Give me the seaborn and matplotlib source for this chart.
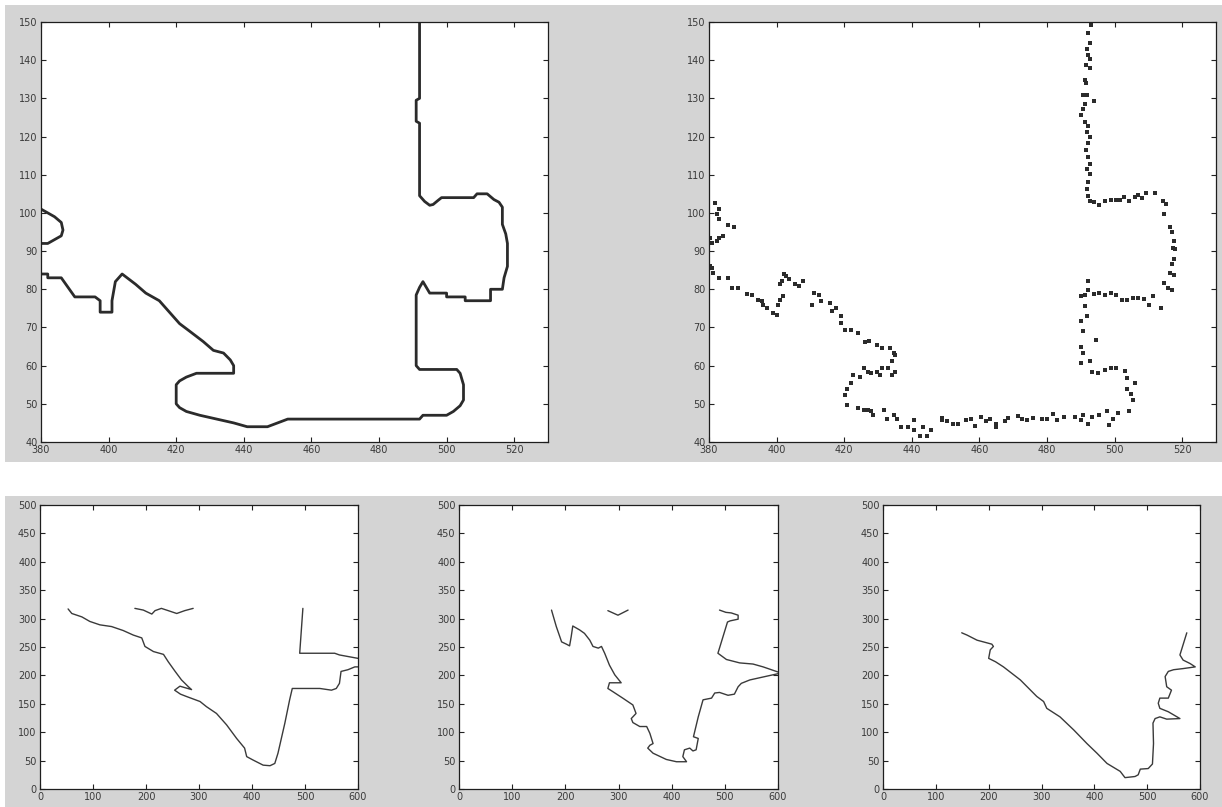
import matplotlib
matplotlib.use("Agg")
import matplotlib.pyplot as plt
import pandas as pd
import seaborn as sns
from matplotlib.patches import Rectangle

# ---- top-left: traced boundary (closed contour pieces) ----
contour_main_x = [380, 382, 382, 386, 390, 396, 397.5, 397.5, 401, 401, 402, 404, 408, 411, 415, 418,
                  421, 424, 428, 431, 434, 436, 437, 437, 426, 423, 421, 420, 420, 421, 423, 427,
                  432, 437, 441, 447, 450, 453, 492, 493, 500, 502, 504, 505, 505, 504, 503, 492,
                  491, 491, 492, 493, 495, 500, 500, 505.5, 505.5, 513, 513, 516.5, 517, 518, 518,
                  517.5, 516.5, 516.5, 515.5, 514, 512, 509, 508, 498.5, 497.5, 496, 495, 493.5,
                  492, 492, 491, 491, 492, 492]
contour_main_y = [84, 84, 83, 83, 78, 78, 77, 74, 74, 77, 82, 84, 81.3, 79, 77, 74,
                  71, 69, 66.3, 64, 63.3, 61.5, 60, 58, 58, 57, 56, 55, 50, 49, 48, 47,
                  46, 45, 44, 44, 45, 46, 46, 47, 47, 48, 49.5, 51, 55, 58, 59, 59,
                  60, 78.5, 80.5, 82, 79, 79, 78, 78, 77, 77, 80, 80, 83, 86, 92,
                  94.5, 97, 101.5, 102.8, 103.5, 105, 105, 104, 104, 103.3, 102.2, 102, 103,
                  104.5, 123.5, 124, 129.5, 130, 150]
contour_lobe_x = [380, 382, 384, 386, 386.5, 386, 384, 382, 380]
contour_lobe_y = [101, 100, 99, 97.5, 95.5, 94, 93, 92, 92]

# ---- top-right: noisy edge samples ----
edge_pts_x = [
    493.1, 492.2, 492.6, 491.7, 492.2, 492.8, 491.5, 492.8, 491.1, 491.5, 490.6, 491.7, 493.9, 491.1,
    490.6, 490.0, 491.1, 492.2, 491.7, 492.8, 492.2, 491.5, 492.2, 492.8, 491.7, 492.8, 492.2, 491.7,
    492.2,
    492.8, 493.9, 495.5, 497.2, 498.8, 500.5, 501.6, 502.7, 504.3, 505.9, 507.0, 508.1, 509.2, 512.0,
    514.2, 515.3, 514.5,
    516.4, 516.9, 517.5, 517.3, 518.0, 517.5, 516.9, 516.4, 517.5, 514.7, 515.8, 516.9, 513.6,
    511.4, 510.3, 508.7, 507.0, 505.4, 503.8, 502.1, 500.5, 498.8, 497.2, 495.5, 493.9, 492.2, 491.1,
    490.0, 492.2,
    491.1, 490.0, 491.7, 490.6, 494.4, 490.0, 490.6, 490.0, 492.8,
    493.3, 495.0, 497.2, 498.8, 500.5, 503.2, 503.8, 505.9, 503.8, 504.9, 505.4, 504.3, 501.0, 499.4,
    498.3, 497.7, 495.5, 493.3, 492.2, 490.6, 490.0, 488.4,
    485.1, 482.9, 481.8, 480.1, 478.5, 475.8, 474.1, 472.5, 471.4, 468.6, 467.5, 464.8, 464.8, 463.1,
    462.0, 460.4, 458.7, 457.6, 456.0, 453.8, 452.1, 450.5, 448.8, 448.8, 445.6, 444.5, 443.4, 442.3,
    440.6, 440.6, 439.0, 436.8, 435.7, 434.6, 432.7, 431.8, 428.5, 428.0, 426.9, 425.8, 424.1, 420.8,
    420.3, 420.8, 421.9, 422.5, 424.7, 425.8, 426.9, 428.0, 429.6, 430.7, 431.3, 432.9, 434.0, 435.1,
    434.0, 435.1, 434.6, 433.5, 431.3, 429.6, 427.4, 426.3, 424.1, 421.9, 420.3, 419.2, 419.2, 417.6,
    416.5, 415.9, 413.2, 412.6, 411.0, 410.4, 407.7, 406.6, 405.5, 403.8, 402.7, 401.6, 400.9, 402.2,
    402.0, 401.1, 400.5, 400.0, 398.9, 397.2, 396.1, 395.6, 394.5, 392.8, 391.2, 388.5, 386.8, 385.7,
    383.0, 381.3, 380.8, 380.2,
    381.9, 383.0, 382.4, 383.0, 385.7, 387.4, 384.1, 383.0, 382.4, 380.8, 380.2,
]
edge_pts_y = [
    149.3, 147.1, 144.5, 142.9, 141.4, 140.3, 138.8, 137.9, 134.8, 133.9, 130.9, 130.9, 129.4, 128.5,
    127.1, 125.6, 123.9, 122.7, 121.2, 119.9, 118.3, 116.4, 114.6, 112.9, 111.5, 110.2, 108.0, 106.3,
    104.5,
    103.2, 102.8, 102.2, 103.2, 103.5, 103.5, 103.4, 104.1, 103.2, 104.1, 104.7, 103.9, 105.1, 105.1,
    103.2, 102.3, 99.7,
    96.2, 95.1, 92.7, 90.9, 90.5, 87.8, 86.5, 84.3, 83.7, 81.7, 80.4, 79.9, 75.1,
    78.2, 75.8, 77.5, 77.7, 77.7, 77.1, 77.3, 78.6, 79.1, 78.6, 79.1, 78.8, 79.7, 78.6,
    78.2, 82.1,
    75.5, 71.8, 72.9, 69.0, 66.8, 65.0, 63.3, 60.6, 61.3,
    58.4, 58.0, 58.9, 59.3, 59.3, 58.7, 56.7, 55.5, 54.0, 52.5, 51.0, 48.1, 47.5, 46.1,
    44.4, 48.1, 47.0, 46.6, 44.8, 47.0, 45.7, 46.6,
    46.6, 45.7, 47.3, 46.1, 46.1, 46.3, 45.7, 46.1, 46.7, 46.3, 45.4, 43.9, 44.8, 46.0,
    45.4, 46.6, 44.2, 46.0, 45.7, 44.8, 44.8, 45.4, 45.7, 46.3, 43.1, 41.7, 43.9, 41.7,
    43.1, 45.7, 43.9, 43.9, 46.1, 47.0, 46.1, 48.3, 47.0, 48.1, 48.3, 48.3, 48.9, 49.6,
    52.3, 54.0, 55.4, 57.5, 57.1, 59.3, 58.4, 58.0, 58.4, 57.5, 59.3, 59.3, 57.5, 58.4,
    61.1, 62.8, 63.3, 64.6, 64.6, 65.5, 66.5, 66.3, 68.5, 69.4, 69.4, 71.2, 72.9, 75.1,
    74.2, 76.4, 76.9, 78.6, 79.1, 76.0, 82.1, 80.8, 81.3, 82.6, 83.5, 82.1, 81.3, 83.9,
    78.2, 77.3, 76.0, 73.3, 73.8, 75.1, 76.0, 76.9, 77.3, 78.6, 78.8, 80.4, 80.4, 83.0,
    83.0, 84.3, 85.6, 86.1,
    102.5, 101.0, 99.7, 98.4, 96.9, 96.2, 94.0, 93.4, 92.7, 92.2, 93.5,
]

# ---- bottom row: three traced edge curves ----
bl_main_x = [53, 60, 79, 94, 113, 135, 157, 176, 192, 198, 214, 233, 242, 255, 267, 280, 286, 264, 254,
             265, 276, 302, 314, 333, 352, 371, 386, 390, 402, 421, 434, 443, 449, 462, 471, 476, 528,
             550, 559, 565, 568, 581, 594, 600]
bl_main_y = [317, 309, 303, 295, 289, 286, 279, 271, 266, 251, 242, 237, 224, 207, 192, 180, 175, 181, 174,
             167, 163, 154, 145, 133, 113, 89, 72, 57, 51, 42, 41, 45, 63, 116, 157, 177, 177,
             174, 177, 186, 207, 210, 215, 215]
bl_top_x = [179, 195, 211, 217, 229, 242, 258, 273, 289]
bl_top_y = [318, 315, 308, 314, 318, 314, 309, 314, 318]
bl_right_x = [496, 490, 556, 565, 600]
bl_right_y = [318, 239, 239, 236, 230]

bm_left_x = [174, 183, 193, 202, 208, 211, 214, 227, 236, 246, 252, 262, 268, 274, 283, 293, 305, 283,
             280, 290, 308, 327, 333, 324, 327, 340, 353, 359, 365, 359, 355, 365, 390, 409, 428, 421,
             424, 434, 440, 446, 450, 441, 450, 459, 475, 481, 490, 506, 518, 525, 531, 547, 571, 600]
bm_left_y = [315, 286, 259, 255, 252, 268, 287, 280, 274, 262, 251, 248, 251, 239, 218, 201, 187, 187,
             177, 171, 160, 148, 133, 124, 117, 110, 110, 98, 80, 77, 72, 63, 52, 48, 48, 57,
             69, 72, 67, 69, 89, 92, 127, 157, 160, 169, 170, 165, 167, 180, 186, 192, 197, 203]
bm_right_x = [490, 502, 512, 525, 525, 510, 505, 487, 503, 528, 553, 572, 600]
bm_right_y = [315, 311, 310, 306, 299, 296, 294, 239, 228, 222, 220, 215, 206]
bm_v_x = [280, 299, 318]
bm_v_y = [314, 306, 315]

br_main_x = [149, 159, 178, 206, 209, 203, 200, 213, 228, 260, 291, 304, 310, 335, 361, 386, 405, 424,
             449, 458, 477, 483, 487, 502, 510, 512, 511, 515, 524, 537, 562, 540, 524, 521, 524, 540,
             546, 537, 534, 540, 550, 568, 591, 581, 568, 562, 568, 575]
br_main_y = [275, 271, 262, 255, 251, 245, 230, 224, 215, 192, 163, 154, 142, 127, 104, 80, 63, 45,
             31, 20, 22, 25, 35, 36, 44, 80, 116, 124, 127, 123, 124, 136, 142, 151, 160, 160,
             174, 180, 198, 207, 210, 212, 215, 221, 227, 236, 254, 275]

top_xticks = [380, 400, 420, 440, 460, 480, 500, 520]
top_yticks = [40, 50, 60, 70, 80, 90, 100, 110, 120, 130, 140, 150]
bot_xticks = [0, 100, 200, 300, 400, 500, 600]
bot_yticks = [0, 50, 100, 150, 200, 250, 300, 350, 400, 450, 500]

sns.set_style("ticks")
plt.rcParams["font.family"] = ["DejaVu Sans"]

W, H = 1222, 807
fig = plt.figure(figsize=(W / 100, H / 100), dpi=100, facecolor="white")

# grey window backgrounds behind the two rows of plots
panel_grey = "#d4d4d4"
for (x0, y0, x1, y1) in [(5, 5, 1222, 462), (5, 496, 1222, 807)]:
    fig.patches.append(Rectangle((x0 / W, 1 - y1 / H), (x1 - x0) / W, (y1 - y0) / H,
                                 transform=fig.transFigure, facecolor=panel_grey,
                                 edgecolor="none", zorder=-10))


def make_axes(px_left, px_top, px_right, px_bottom):
    ax = fig.add_axes([px_left / W, 1 - px_bottom / H,
                       (px_right - px_left) / W, (px_bottom - px_top) / H])
    ax.set_zorder(5)
    return ax


def style(ax, xlim, ylim, xticks, yticks):
    ax.set_facecolor("white")
    ax.set_xlim(*xlim)
    ax.set_ylim(*ylim)
    ax.set_xticks(xticks)
    ax.set_yticks(yticks)
    ax.set_xlabel("")
    ax.set_ylabel("")
    ax.tick_params(direction="in", length=3.5, width=0.8, top=True, right=True,
                   labelsize=7, labelcolor="#3a3a3a", color="#222222", pad=2.5)
    for s in ax.spines.values():
        s.set_visible(True)
        s.set_color("#1e1e1e")
        s.set_linewidth(0.9)
    if ax.get_legend() is not None:
        ax.get_legend().remove()


def trace(ax, xs, ys, lw, color):
    df = pd.DataFrame({"x": xs, "y": ys})
    sns.lineplot(data=df, x="x", y="y", sort=False, estimator=None, ax=ax,
                 color=color, linewidth=lw)


# top-left
ax1 = make_axes(41, 22, 548, 442)
trace(ax1, contour_main_x, contour_main_y, 2.0, "#2b2b2b")
trace(ax1, contour_lobe_x, contour_lobe_y, 2.0, "#2b2b2b")
style(ax1, (380, 530), (40, 150), top_xticks, top_yticks)

# top-right
ax2 = make_axes(709, 22, 1216, 442)
sns.scatterplot(x=edge_pts_x, y=edge_pts_y, ax=ax2, marker="s", s=6,
                color="#2b2b2b", linewidth=0)
style(ax2, (380, 530), (40, 150), top_xticks, top_yticks)

# bottom row
ax3 = make_axes(40, 505, 358, 789)
trace(ax3, bl_main_x, bl_main_y, 1.0, "#3a3a3a")
trace(ax3, bl_top_x, bl_top_y, 1.0, "#3a3a3a")
trace(ax3, bl_right_x, bl_right_y, 1.0, "#3a3a3a")
style(ax3, (0, 600), (0, 500), bot_xticks, bot_yticks)

ax4 = make_axes(459, 505, 778, 789)
trace(ax4, bm_left_x, bm_left_y, 1.0, "#3a3a3a")
trace(ax4, bm_right_x, bm_right_y, 1.0, "#3a3a3a")
trace(ax4, bm_v_x, bm_v_y, 1.0, "#3a3a3a")
style(ax4, (0, 600), (0, 500), bot_xticks, bot_yticks)

ax5 = make_axes(883, 505, 1200, 789)
trace(ax5, br_main_x, br_main_y, 1.0, "#3a3a3a")
style(ax5, (0, 600), (0, 500), bot_xticks, bot_yticks)

fig.savefig("out.png", dpi=100, facecolor=fig.get_facecolor())
